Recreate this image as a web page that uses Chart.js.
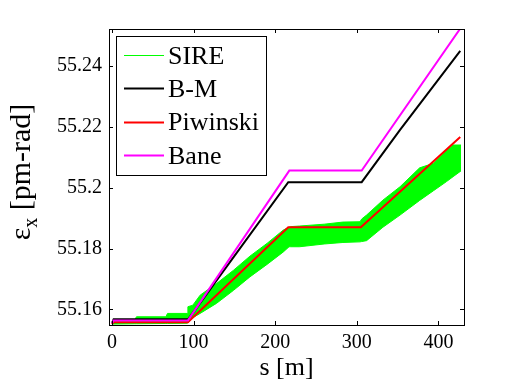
<!DOCTYPE html>
<html>
<head>
<meta charset="utf-8">
<script src="https://cdn.jsdelivr.net/npm/chart.js@4.4.0/dist/chart.umd.min.js"></script>
<style>
  html, body { margin: 0; padding: 0; background: #fff; }
</style>
</head>
<body>
<canvas id="emit-chart" width="513" height="384"></canvas>
<script>
// Axis ticks
const xTicks = [0, 100, 200, 300, 400];
const xTickLabels = ["0", "100", "200", "300", "400"];
const yTicks = [55.16, 55.18, 55.2, 55.22, 55.24];
const yTickLabels = ["55.16", "55.18", "55.2", "55.22", "55.24"];

// SIRE spread (upper / lower edge of the green band)
const sireS = [0, 2, 28, 30, 66, 68, 92, 93, 99, 108, 128, 149, 169, 190, 210, 217, 219, 230, 260, 283, 304, 306, 312, 332, 353, 377, 394, 410, 418, 427.7];
const sireUpper = [55.1552, 55.1565, 55.1567, 55.1576, 55.1576, 55.1587, 55.1587, 55.1609, 55.1614, 55.1647, 55.1685, 55.1729, 55.1775, 55.1817, 55.1861, 55.1870, 55.1872, 55.1874, 55.1880, 55.1887, 55.1888, 55.1897, 55.1910, 55.1959, 55.2003, 55.2065, 55.2080, 55.2124, 55.2140, 55.2140];
const sireLower = [55.1549, 55.1552, 55.1553, 55.1553, 55.1554, 55.1554, 55.1555, 55.1555, 55.1573, 55.1587, 55.1620, 55.1663, 55.1707, 55.1748, 55.1789, 55.1806, 55.1806, 55.1806, 55.1815, 55.1820, 55.1822, 55.1823, 55.1826, 55.1870, 55.1910, 55.1958, 55.1990, 55.2020, 55.2036, 55.2055];

// Bjorken-Mtingwa
const bmS = [0, 2, 93.5, 216, 306, 353, 426.8];
const bmY = [55.1555, 55.1568, 55.1568, 55.2018, 55.2018, 55.2190, 55.2449];

// Piwinski
const pwS = [0, 2, 93, 216, 305, 426.8];
const pwY = [55.1552, 55.1558, 55.1558, 55.1870, 55.1870, 55.2166];

// Bane
const baneS = [0, 2, 93, 217.3, 306, 427.7];
const baneY = [55.1555, 55.1564, 55.1564, 55.2056, 55.2056, 55.2526];

const serif = '"Liberation Serif", "DejaVu Serif", serif';

function toPoints(xs, ys) {
  return xs.map((x, i) => ({ x: x, y: ys[i] }));
}

function line(label, xs, ys, color, width, order) {
  return {
    label: label,
    data: toPoints(xs, ys),
    borderColor: color,
    backgroundColor: color,
    borderWidth: width,
    pointRadius: 0,
    tension: 0,
    fill: false,
    order: order,
    clip: 0,
  };
}

const sireTop = line("SIRE", sireS, sireUpper, "#00ff00", 1, 4);
sireTop.fill = "+1";
const sireBottom = line("", sireS, sireLower, "#00ff00", 1, 5);

/* MATLAB style box with inward ticks on all four sides */
const frameTicks = {
  id: "frameTicks",
  afterDatasetsDraw(chart) {
    const { ctx, chartArea: a, scales } = chart;
    const len = 4;
    ctx.save();
    ctx.strokeStyle = "#000";
    ctx.lineWidth = 1;
    ctx.beginPath();
    xTicks.forEach((v) => {
      const px = Math.round(scales.x.getPixelForValue(v)) + 0.5;
      ctx.moveTo(px, a.bottom); ctx.lineTo(px, a.bottom - len);
      ctx.moveTo(px, a.top); ctx.lineTo(px, a.top + len);
    });
    yTicks.forEach((v) => {
      const py = Math.round(scales.y.getPixelForValue(v)) + 0.5;
      ctx.moveTo(a.left, py); ctx.lineTo(a.left + len, py);
      ctx.moveTo(a.right, py); ctx.lineTo(a.right - len, py);
    });
    ctx.stroke();
    ctx.strokeRect(Math.round(a.left) + 0.5, Math.round(a.top) + 0.5,
      Math.round(a.right - a.left), Math.round(a.bottom - a.top));
    ctx.restore();
  },
};

/* Legend box in the upper left corner of the axes */
const boxLegend = {
  id: "boxLegend",
  afterDraw(chart) {
    const ctx = chart.ctx;
    const items = chart.data.datasets.filter((d) => d.label);
    ctx.save();
    ctx.fillStyle = "#fff";
    ctx.fillRect(116.5, 36.5, 150, 139);
    ctx.strokeStyle = "#000";
    ctx.lineWidth = 1;
    ctx.strokeRect(116.5, 36.5, 150, 139);
    ctx.font = "26px " + serif;
    ctx.textBaseline = "alphabetic";
    items.forEach((d, i) => {
      const y = 55 + i * 33.4;
      ctx.strokeStyle = d.borderColor;
      ctx.lineWidth = d.borderWidth === 1 ? 1 : 2;
      ctx.beginPath();
      ctx.moveTo(124, Math.round(y) + 0.5);
      ctx.lineTo(164, Math.round(y) + 0.5);
      ctx.stroke();
      ctx.fillStyle = "#000";
      ctx.fillText(d.label, 168, y + 8.5);
    });
    ctx.restore();
  },
};

/* y label with subscript: eps_x [pm-rad] */
const yLabel = {
  id: "yLabel",
  afterDraw(chart) {
    const ctx = chart.ctx;
    const big = "30px " + serif;
    const small = "20px " + serif;
    ctx.save();
    ctx.font = big;
    const w1 = ctx.measureText("\u03b5").width;
    const w3 = ctx.measureText(" [pm-rad]").width;
    ctx.font = small;
    const w2 = ctx.measureText("x").width;
    const start = -(w1 + w2 + w3) / 2;
    ctx.translate(30, 172);
    ctx.rotate(-Math.PI / 2);
    ctx.fillStyle = "#000";
    ctx.textBaseline = "alphabetic";
    ctx.font = big;
    ctx.fillText("\u03b5", start, 0);
    ctx.font = small;
    ctx.fillText("x", start + w1, 7);
    ctx.font = big;
    ctx.fillText(" [pm-rad]", start + w1 + w2, 0);
    ctx.restore();
  },
};

new Chart(document.getElementById("emit-chart"), {
  type: "line",
  data: {
    datasets: [
      sireTop,
      sireBottom,
      line("B-M", bmS, bmY, "#000000", 2, 3),
      line("Piwinski", pwS, pwY, "#ff0000", 2, 2),
      line("Bane", baneS, baneY, "#ff00ff", 2, 1),
    ],
  },
  options: {
    responsive: false,
    animation: false,
    devicePixelRatio: 1,
    layout: { padding: { top: 29, right: 49, left: 0, bottom: 0 } },
    plugins: {
      legend: { display: false },
      tooltip: { enabled: false },
    },
    scales: {
      x: {
        type: "linear",
        min: -3.7,
        max: 431.4,
        grid: { display: false, drawTicks: false },
        border: { display: false },
        afterFit: (scale) => { scale.height = 59; },
        afterBuildTicks: (scale) => { scale.ticks = xTicks.map((v) => ({ value: v })); },
        ticks: {
          autoSkip: false,
          maxRotation: 0,
          padding: 6,
          color: "#000",
          font: { family: serif, size: 20 },
          callback: (v, i) => xTickLabels[i],
        },
        title: {
          display: true,
          text: "s [m]",
          color: "#000",
          font: { family: serif, size: 26 },
          padding: { top: 0, bottom: 0 },
        },
      },
      y: {
        type: "linear",
        min: 55.1549,
        max: 55.2521,
        grid: { display: false, drawTicks: false },
        border: { display: false },
        afterFit: (scale) => { scale.width = 109; },
        afterBuildTicks: (scale) => { scale.ticks = yTicks.map((v) => ({ value: v })); },
        ticks: {
          autoSkip: false,
          padding: 7,
          color: "#000",
          font: { family: serif, size: 20 },
          callback: (v, i) => yTickLabels[i],
        },
      },
    },
  },
  plugins: [frameTicks, boxLegend, yLabel],
});
</script>
</body>
</html>
